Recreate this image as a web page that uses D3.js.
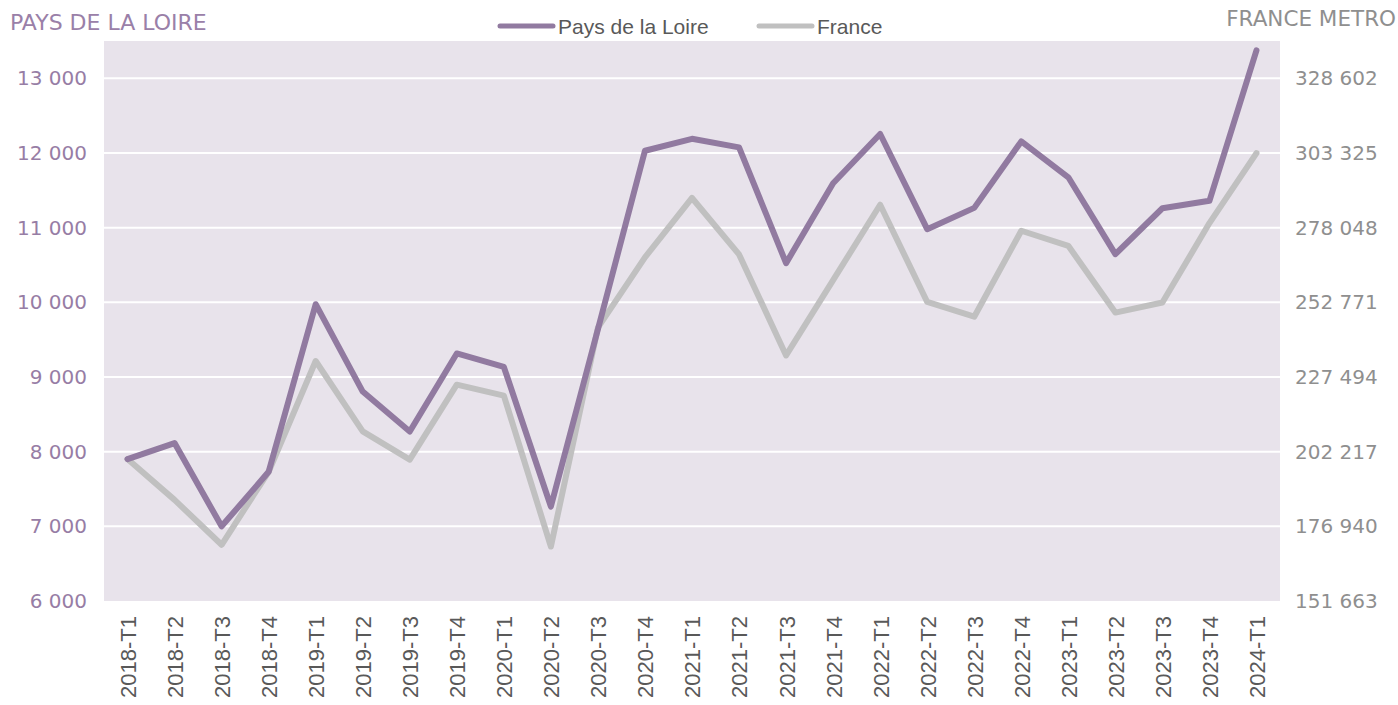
<!DOCTYPE html>
<html>
<head>
<meta charset="utf-8">
<script src="https://cdn.jsdelivr.net/npm/d3@7"></script>
<style>
  body { margin: 0; background: #fff; }
  svg { display: block; }
  .grid line { stroke: #fff; stroke-width: 2px; }
  .line { fill: none; stroke-width: 6px; stroke-linejoin: round; stroke-linecap: round; }
</style>
</head>
<body>
<svg id="chart"></svg>
<script>
// quarters on the x axis
const quarters = [
  '2018-T1', '2018-T2', '2018-T3', '2018-T4',
  '2019-T1', '2019-T2', '2019-T3', '2019-T4',
  '2020-T1', '2020-T2', '2020-T3', '2020-T4',
  '2021-T1', '2021-T2', '2021-T3', '2021-T4',
  '2022-T1', '2022-T2', '2022-T3', '2022-T4',
  '2023-T1', '2023-T2', '2023-T3', '2023-T4',
  '2024-T1'
];

// left axis series
const paysDeLaLoire = [
  7900, 8115, 7000, 7730,
  9975, 8805, 8270, 9315,
  9135, 7265, 9640, 12030,
  12190, 12075, 10525, 11595,
  12255, 10980, 11265, 12155,
  11675, 10645, 11260, 11360,
  13375
];

// right axis series
const france = [
  199700, 185900, 170700, 195400,
  232900, 209100, 199500, 224900,
  221200, 170100, 244200, 268000,
  288100, 269000, 234800, 260300,
  285800, 252900, 247900, 277000,
  271900, 249300, 252700, 279600,
  303300
];

const leftTicks = [6000, 7000, 8000, 9000, 10000, 11000, 12000, 13000];
const rightTicks = [151663, 176940, 202217, 227494, 252771, 278048, 303325, 328602];

const WIDTH = 1398;
const HEIGHT = 705;
const plot = {left: 104, right: 1280, top: 41, bottom: 601};

const purple = '#917aa0';
const grey = '#c0c0c0';

const fr = d3.formatLocale({decimal: ',', thousands: '\u00a0', grouping: [3], currency: ['', ' €']});
const fmt = fr.format(',d');

const svg = d3.select('#chart')
  .attr('width', WIDTH)
  .attr('height', HEIGHT)
  .attr('viewBox', [0, 0, WIDTH, HEIGHT]);

const x = d3.scalePoint()
  .domain(quarters)
  .range([plot.left, plot.right])
  .padding(0.5);

// both axes share the same vertical span, 7.5 steps each
const yLeft = d3.scaleLinear()
  .domain([6000, 13500])
  .range([plot.bottom, plot.top]);
const yRight = d3.scaleLinear()
  .domain([rightTicks[0], rightTicks[0] + 7.5 * (rightTicks[1] - rightTicks[0])])
  .range([plot.bottom, plot.top]);

svg.append('rect')
  .attr('x', plot.left)
  .attr('y', plot.top)
  .attr('width', plot.right - plot.left)
  .attr('height', plot.bottom - plot.top)
  .attr('fill', '#e8e3eb');

svg.append('g')
  .attr('class', 'grid')
  .selectAll('line')
  .data(leftTicks.slice(1))
  .enter().append('line')
  .attr('x1', plot.left)
  .attr('x2', plot.right)
  .attr('y1', d => yLeft(d))
  .attr('y2', d => yLeft(d));

// left axis
const leftAxis = svg.append('g')
  .attr('transform', `translate(${plot.left},0)`)
  .call(d3.axisLeft(yLeft).tickValues(leftTicks).tickFormat(fmt).tickSize(0).tickPadding(17));
leftAxis.select('.domain').remove();
leftAxis.selectAll('text')
  .attr('fill', '#977da5')
  .style('font-family', '"DejaVu Sans", Verdana, sans-serif')
  .style('font-size', '20px');

// right axis
const rightAxis = svg.append('g')
  .attr('transform', `translate(${plot.right},0)`)
  .call(d3.axisRight(yRight).tickValues(rightTicks).tickFormat(fmt).tickSize(0).tickPadding(15));
rightAxis.select('.domain').remove();
rightAxis.selectAll('text')
  .attr('fill', '#8f8f8f')
  .style('font-family', '"DejaVu Sans", Verdana, sans-serif')
  .style('font-size', '20px');

// bottom axis, vertical labels
const xAxis = svg.append('g')
  .attr('transform', `translate(0,${plot.bottom})`)
  .call(d3.axisBottom(x).tickSize(0));
xAxis.select('.domain').remove();
xAxis.selectAll('text')
  .attr('transform', 'rotate(-90)')
  .attr('x', -15)
  .attr('y', 0)
  .attr('dy', '0.36em')
  .style('text-anchor', 'end')
  .attr('fill', '#595959')
  .style('font-family', '"Liberation Sans", Arial, sans-serif')
  .style('font-size', '22px');

const lineLeft = d3.line()
  .x((d, i) => x(quarters[i]))
  .y(d => yLeft(d));
const lineRight = d3.line()
  .x((d, i) => x(quarters[i]))
  .y(d => yRight(d));

svg.append('path')
  .attr('class', 'line')
  .attr('stroke', grey)
  .attr('d', lineRight(france));

svg.append('path')
  .attr('class', 'line')
  .attr('stroke', purple)
  .attr('d', lineLeft(paysDeLaLoire));

// axis titles
svg.append('text')
  .attr('x', 10)
  .attr('y', 30)
  .attr('fill', '#9a80a8')
  .style('font-family', '"DejaVu Sans", Verdana, sans-serif')
  .style('font-size', '22px')
  .text('PAYS DE LA LOIRE');

svg.append('text')
  .attr('x', 1396)
  .attr('y', 26)
  .attr('text-anchor', 'end')
  .attr('fill', '#8f8f8f')
  .style('font-family', '"DejaVu Sans", Verdana, sans-serif')
  .style('font-size', '21.5px')
  .text('FRANCE METRO');

// legend
const legendItems = [
  {name: 'Pays de la Loire', color: purple, x: 500},
  {name: 'France', color: grey, x: 759}
];
const legend = svg.append('g')
  .selectAll('g')
  .data(legendItems)
  .enter().append('g')
  .attr('transform', d => `translate(${d.x},26)`);
legend.append('line')
  .attr('x1', 0)
  .attr('x2', 53)
  .attr('stroke', d => d.color)
  .attr('stroke-width', 5)
  .attr('stroke-linecap', 'round');
legend.append('text')
  .attr('x', 58)
  .attr('dy', '0.36em')
  .attr('fill', '#595959')
  .style('font-family', '"Liberation Sans", Arial, sans-serif')
  .style('font-size', '21px')
  .text(d => d.name);
</script>
</body>
</html>
